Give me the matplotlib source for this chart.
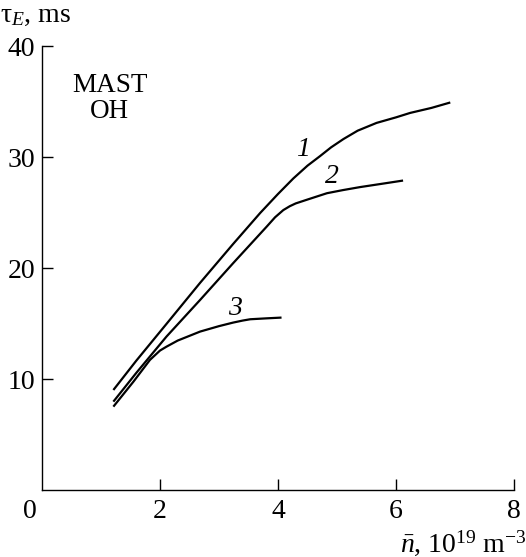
import matplotlib
matplotlib.use("Agg")
import matplotlib.pyplot as plt
from matplotlib.transforms import ScaledTranslation

plt.rcParams['font.family'] = ['Liberation Serif', 'DejaVu Serif']
plt.rcParams['mathtext.fontset'] = 'custom'
plt.rcParams['mathtext.rm'] = 'Liberation Serif'
plt.rcParams['mathtext.it'] = 'Liberation Serif:italic'

# Data
x1 = [1.21, 1.6, 2.11, 2.68, 3.24, 3.7, 4.0, 4.26, 4.5, 4.71, 4.9, 5.11, 5.35, 5.67, 6.0, 6.24, 6.6, 6.92]
y1 = [9.05, 11.7, 15.0, 18.7, 22.2, 25.0, 26.7, 28.1, 29.25, 30.1, 30.9, 31.65, 32.4, 33.1, 33.6, 34.0, 34.45, 34.94]
x2 = [1.21, 1.6, 2.11, 2.68, 3.24, 3.81, 3.95, 4.09, 4.2, 4.3, 4.5, 4.83, 5.1, 5.39, 5.8, 6.12]
y2 = [8.0, 10.6, 13.86, 17.16, 20.47, 23.77, 24.6, 25.25, 25.6, 25.85, 26.2, 26.77, 27.05, 27.32, 27.65, 27.91]
x3 = [1.21, 1.55, 1.83, 2.0, 2.11, 2.3, 2.68, 3.0, 3.24, 3.4, 3.53, 3.8, 4.06]
y3 = [7.55, 9.8, 11.76, 12.6, 12.95, 13.5, 14.31, 14.8, 15.12, 15.3, 15.42, 15.5, 15.57]
curve_labels = ['1', '2', '3']
label_pos = [(4.43, 30.7), (4.91, 28.3), (3.27, 16.4)]
xticks = [0, 2, 4, 6, 8]
yticks = [10, 20, 30, 40]

fig = plt.figure(figsize=(5.26, 5.57), dpi=100)
ax = fig.add_axes([0.0798, 0.1194, 0.8974, 0.7975])

for xs, ys in [(x1, y1), (x2, y2), (x3, y3)]:
    ax.plot(xs, ys, color='black', lw=1.6, solid_capstyle='butt', solid_joinstyle='round')

for lab, (lx, ly) in zip(curve_labels, label_pos):
    ax.text(lx, ly, lab, fontsize=20, style='italic', ha='center', va='center')

ax.text(1.15, 36.5, 'MAST', fontsize=19.5, ha='center', va='center')
ax.text(1.15, 34.1, 'OH', fontsize=19.5, ha='center', va='center')

ax.set_xlim(0, 8)
ax.set_ylim(0, 40)
ax.set_xticks(xticks)
ax.set_yticks(yticks)
ax.spines['top'].set_visible(False)
ax.spines['right'].set_visible(False)
for s in ['left', 'bottom']:
    ax.spines[s].set_linewidth(1.0)
ax.tick_params(direction='in', length=8, width=1.0, labelsize=20)
ax.tick_params(axis='x', pad=6)
ax.tick_params(axis='y', pad=5)
# shift the "0" label left as in reference
lab0 = ax.get_xticklabels()[0]
lab0.set_transform(lab0.get_transform() + ScaledTranslation(-0.12, 0, fig.dpi_scale_trans))
ax.xaxis.get_major_ticks()[0].tick1line.set_visible(False)

fig.text(0.0, 1 - 15 / 557, r'τ$_{\mathit{E}}$, ms', fontsize=20, ha='left', va='center')
fig.text(1.0, 1 - 543 / 557, r'$\bar{n}$, 10$^{19}$ m$^{-3}$', fontsize=20, ha='right', va='center')

fig.savefig('out.png', dpi=100)
